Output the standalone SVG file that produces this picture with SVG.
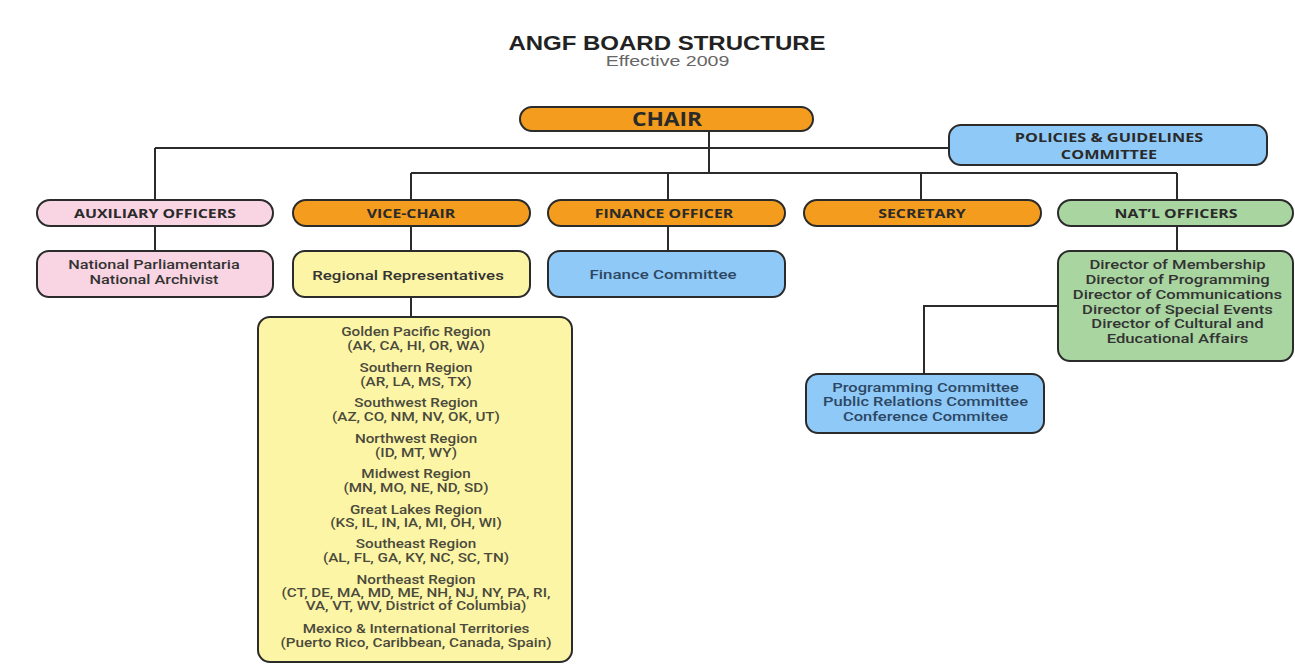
<svg xmlns="http://www.w3.org/2000/svg" width="1295" height="669" viewBox="0 0 1295 669">
<style>
.box{stroke:#2b2b2b;stroke-width:2}
.or{fill:#F39C1D}.pk{fill:#F9D5E3}.ye{fill:#FDF5A6}.bl{fill:#8FC9F7}.gr{fill:#A9D5A1}
.h{font-family:"Open Sans","Liberation Sans",sans-serif;font-weight:700;fill:#2a2a2a;text-anchor:middle}
.t{font-family:Roboto,"Liberation Sans",sans-serif;font-weight:500;fill:#333;text-anchor:middle}
.r{fill:#4a4a3c}
.b{fill:#2c4763}
.conn{stroke:#2b2b2b;stroke-width:2;fill:none}
</style>
<rect width="1295" height="669" fill="#fff"/>
<g id="title">
<text transform="matrix(1.2 0 0 1 667 0)" x="0" y="50.5" font-family="Liberation Sans, Arial, sans-serif" font-weight="700" font-size="20" fill="#222" text-anchor="middle">ANGF BOARD STRUCTURE</text>
<text transform="matrix(1.4 0 0 1 667.5 0)" x="0" y="66" font-family="Liberation Sans, Arial, sans-serif" font-size="14" fill="#666" text-anchor="middle">Effective  2009</text>
</g>
<g id="connectors">
<path class="conn" d="M709 131V173M155 148H950M155 148V200M411 173H1177M411 173V200M668 173V200M921 173V200M1177 173V200"/>
<path class="conn" d="M155 226V251M411 226V251M668 226V251M1177 226V251M411 297V317M1058 306H924V374"/>
</g>
<g id="chair"><rect class="box or" x="520" y="107" width="293" height="24" rx="12"/><text class="h" transform="matrix(1.2 0 0 1 667 0)" x="0" y="126" font-size="19">CHAIR</text></g>
<g id="policies"><rect class="box bl" x="949" y="125" width="318" height="40" rx="12"/>
<g transform="matrix(1.3 0 0 1 1109 0)"><text class="h" x="0" y="142.5" font-size="12.5">POLICIES &amp; GUIDELINES</text><text class="h" x="0" y="159" font-size="12.5">COMMITTEE</text></g></g>
<g id="auxiliary"><rect class="box pk" x="37" y="200" width="236" height="26" rx="13"/><text class="h" transform="matrix(1.27 0 0 1 155 0)" x="0" y="218" font-size="12.5">AUXILIARY OFFICERS</text></g>
<g id="vicechair"><rect class="box or" x="293" y="200" width="237" height="26" rx="13"/><text class="h" transform="matrix(1.27 0 0 1 411 0)" x="0" y="218" font-size="12.5">VICE-CHAIR</text></g>
<g id="finance"><rect class="box or" x="548" y="200" width="237" height="26" rx="13"/><text class="h" transform="matrix(1.27 0 0 1 664 0)" x="0" y="218" font-size="12.5">FINANCE OFFICER</text></g>
<g id="secretary"><rect class="box or" x="804" y="200" width="237" height="26" rx="13"/><text class="h" transform="matrix(1.27 0 0 1 922 0)" x="0" y="218" font-size="12.5">SECRETARY</text></g>
<g id="natl"><rect class="box gr" x="1058" y="200" width="235" height="26" rx="13"/><text class="h" transform="matrix(1.27 0 0 1 1176 0)" x="0" y="218" font-size="12.5">NAT’L OFFICERS</text></g>
<g id="parl"><rect class="box pk" x="37" y="251" width="236" height="46" rx="12"/>
<g transform="matrix(1.25 0 0 1 154 0)"><text class="t" x="0" y="269.5" font-size="13">National Parliamentaria</text><text class="t" x="0" y="284.5" font-size="13">National Archivist</text></g></g>
<g id="regreps"><rect class="box ye" x="293" y="251" width="237" height="46" rx="12"/><text class="t" transform="matrix(1.25 0 0 1 408 0)" x="0" y="280" font-size="13.5">Regional Representatives</text></g>
<g id="fincomm"><rect class="box bl" x="548" y="251" width="237" height="46" rx="12"/><text class="t b" transform="matrix(1.25 0 0 1 663 0)" x="0" y="279" font-size="13.5">Finance Committee</text></g>
<g id="directors"><rect class="box gr" x="1058" y="251" width="235" height="110" rx="12"/>
<g transform="matrix(1.28 0 0 1 1177.5 0)">
<text class="t" x="0" y="269.5" font-size="13">Director of Membership</text>
<text class="t" x="0" y="284.3" font-size="13">Director of Programming</text>
<text class="t" x="0" y="299.2" font-size="13">Director of Communications</text>
<text class="t" x="0" y="314" font-size="13">Director of Special Events</text>
<text class="t" x="0" y="328.5" font-size="13">Director of Cultural and</text>
<text class="t" x="0" y="343.2" font-size="13">Educational Affairs</text></g></g>
<g id="committees"><rect class="box bl" x="806" y="374" width="238" height="59" rx="12"/>
<g transform="matrix(1.27 0 0 1 925.5 0)">
<text class="t b" x="0" y="392.3" font-size="13">Programming Committee</text>
<text class="t b" x="0" y="406.5" font-size="13">Public Relations Committee</text>
<text class="t b" x="0" y="420.7" font-size="13">Conference Commitee</text></g></g>
<g id="regions"><rect class="box ye" x="258" y="317" width="314" height="345" rx="12"/>
<g transform="matrix(1.27 0 0 1 416 0)" font-size="12">
<text class="t r" x="0" y="336">Golden Pacific Region</text><text class="t r" x="0" y="350">(AK, CA, HI, OR, WA)</text>
<text class="t r" x="0" y="372">Southern Region</text><text class="t r" x="0" y="386">(AR, LA, MS, TX)</text>
<text class="t r" x="0" y="407">Southwest Region</text><text class="t r" x="0" y="421">(AZ, CO, NM, NV, OK, UT)</text>
<text class="t r" x="0" y="443">Northwest Region</text><text class="t r" x="0" y="457">(ID, MT, WY)</text>
<text class="t r" x="0" y="478">Midwest Region</text><text class="t r" x="0" y="492">(MN, MO, NE, ND, SD)</text>
<text class="t r" x="0" y="514">Great Lakes Region</text><text class="t r" x="0" y="527">(KS, IL, IN, IA, MI, OH, WI)</text>
<text class="t r" x="0" y="548">Southeast Region</text><text class="t r" x="0" y="562">(AL, FL, GA, KY, NC, SC, TN)</text>
<text class="t r" x="0" y="584">Northeast Region</text><text class="t r" x="0" y="597">(CT, DE, MA, MD, ME, NH, NJ, NY, PA, RI,</text><text class="t r" x="0" y="610.5">VA, VT, WV, District of Columbia)</text>
<text class="t r" x="0" y="633">Mexico &amp; International Territories</text><text class="t r" x="0" y="647">(Puerto Rico, Caribbean, Canada, Spain)</text>
</g></g>
</svg>
